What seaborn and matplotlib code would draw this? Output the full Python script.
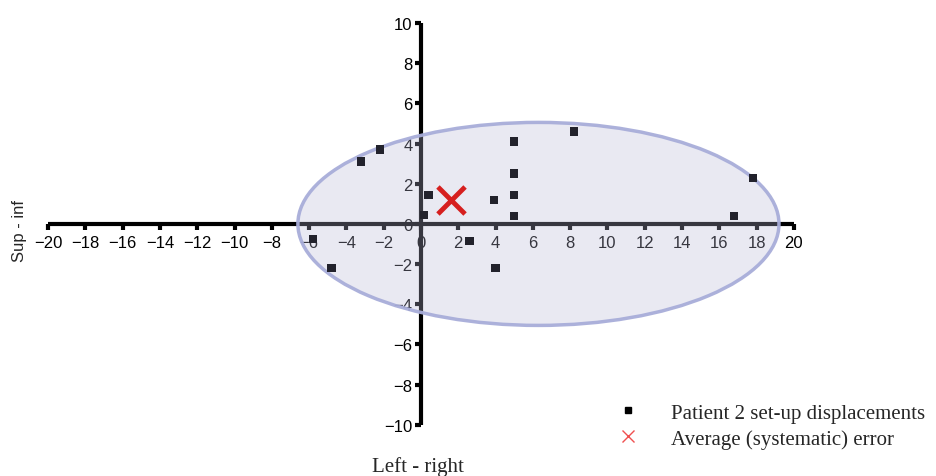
import matplotlib
matplotlib.use("Agg")
import matplotlib.pyplot as plt
from matplotlib.patches import Ellipse
from matplotlib.lines import Line2D
import seaborn as sns
import pandas as pd

# Set-up displacements (mm): left-right (x) and sup-inf (y)
lr_shift = [8.2, 5.0, 5.0, 5.0, 5.0, 3.9, 0.4, 0.15, 2.6, 4.0, 17.8, 16.8, -3.2, -2.2, -5.8, -4.8]
si_shift = [4.6, 4.1, 2.5, 1.45, 0.4, 1.2, 1.45, 0.45, -0.85, -2.2, 2.3, 0.4, 3.1, 3.7, -0.75, -2.2]

# Average (systematic) error
mean_lr = [1.6]
mean_si = [1.2]

# Confidence ellipse: centre and full axes
ell_center = (6.3, 0.0)
ell_width = 25.8
ell_height = 10.1

x_ticks = list(range(-20, 21, 2))
y_ticks = list(range(-10, 11, 2))

sns.set_theme(style="white")
plt.rcParams["font.family"] = ["Liberation Sans", "DejaVu Sans"]

fig = plt.figure(figsize=(9.36, 4.77), dpi=100)
ax = fig.add_axes([0.0314, 0.065, 0.8367, 0.927])

df = pd.DataFrame({"lr": lr_shift, "si": si_shift})

# Axes drawn through the origin
for side in ("top", "right"):
    ax.spines[side].set_visible(False)
ax.spines["left"].set_position(("data", 0))
ax.spines["bottom"].set_position(("data", 0))
ax.spines["bottom"].set_bounds(-20, 20)
ax.spines["left"].set_bounds(-10, 10)
for side in ("left", "bottom"):
    ax.spines[side].set_linewidth(3.0)
    ax.spines[side].set_color("black")
    ax.spines[side].set_zorder(1)
    ax.spines[side].set_capstyle("butt")

ax.set_xlim(-21, 21)
ax.set_ylim(-11, 11)
ax.set_xticks(x_ticks)
ax.set_yticks(y_ticks)
ax.set_xticklabels([str(v).replace("-", "\u2212") for v in x_ticks])
ax.set_yticklabels([str(v).replace("-", "\u2212") for v in y_ticks])
ax.tick_params(axis="both", which="major", bottom=True, left=True, direction="out",
               length=4, width=3.0, color="black", labelsize=12, labelcolor="black")
ax.tick_params(axis="x", pad=4)
ax.tick_params(axis="y", pad=2)

# Shaded ellipse over the axes
ell = Ellipse(ell_center, ell_width, ell_height, facecolor=(0.72, 0.72, 0.84, 0.30),
              edgecolor=(0.66, 0.68, 0.85, 0.95), linewidth=2.5, zorder=2.5)
ax.add_patch(ell)

sns.scatterplot(data=df, x="lr", y="si", marker="s", s=36, color="#22222c",
                edgecolor="none", ax=ax, zorder=3, legend=False)
ax.scatter(mean_lr, mean_si, marker="x", s=380, color="#d61f1f", linewidths=3.5, zorder=4)

ax.set_xlabel("")
ax.set_ylabel("")
ax.grid(False)

fig.text(0.021, 0.516, "Sup - inf", rotation=90, ha="center", va="center", fontsize=12,
         family=["Liberation Sans", "DejaVu Sans"])
fig.text(0.447, 0.021, "Left - right", ha="center", va="center", fontsize=15,
         family=["Liberation Serif", "DejaVu Serif"])

handles = [
    Line2D([], [], linestyle="none", marker="s", markersize=5, color="black"),
    Line2D([], [], linestyle="none", marker="x", markersize=8, color="#f05050", markeredgewidth=1),
]
leg = fig.legend(handles, ["Patient 2 set-up displacements", "Average (systematic) error"],
                 loc="lower right", bbox_to_anchor=(1.004, 0.027), frameon=False,
                 prop={"family": ["Liberation Serif", "DejaVu Serif"], "size": 15},
                 handletextpad=1.05, labelspacing=0.3, borderaxespad=0.3)

fig.savefig("out.png", dpi=100)
